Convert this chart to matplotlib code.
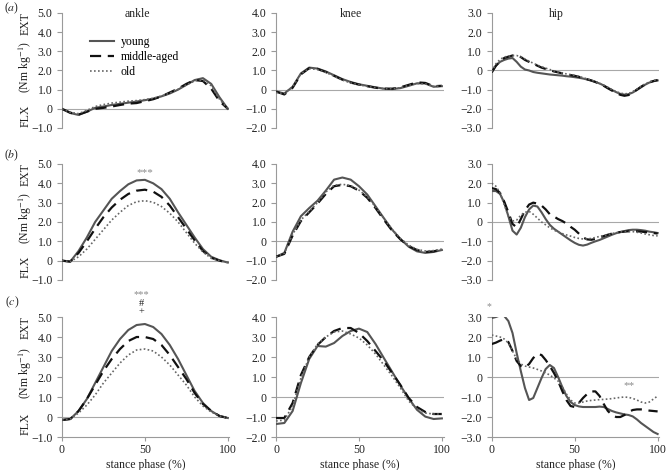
import numpy as np
import matplotlib
matplotlib.use('Agg')
import matplotlib.pyplot as plt

plt.rcParams['font.family'] = ['Liberation Serif', 'DejaVu Serif']
plt.rcParams['mathtext.fontset'] = 'stix'

# stance phase grids (%)
phase = np.arange(0, 101, 5)
phase_hip = np.arange(0, 100.1, 2.5)

# ---- row (a) ----
ankle_a_young = [0.0, -0.22, -0.32, -0.15, 0.05, 0.12, 0.2, 0.26, 0.32, 0.38, 0.45, 0.53, 0.65, 0.8, 1.0, 1.25, 1.5, 1.6, 1.3, 0.6, 0.0]
ankle_a_middle = [0.0, -0.2, -0.3, -0.15, 0.0, 0.05, 0.12, 0.2, 0.27, 0.3, 0.4, 0.5, 0.65, 0.85, 1.05, 1.3, 1.5, 1.45, 1.05, 0.4, 0.0]
ankle_a_old = [0.0, -0.18, -0.25, -0.08, 0.12, 0.22, 0.3, 0.35, 0.4, 0.43, 0.48, 0.55, 0.67, 0.82, 1.02, 1.25, 1.45, 1.5, 1.2, 0.5, 0.0]

knee_a_young = [-0.1, -0.2, 0.15, 0.85, 1.15, 1.1, 0.95, 0.75, 0.55, 0.4, 0.28, 0.2, 0.12, 0.05, 0.03, 0.08, 0.2, 0.33, 0.32, 0.15, 0.18]
knee_a_middle = [-0.1, -0.25, 0.1, 0.8, 1.12, 1.08, 0.92, 0.72, 0.52, 0.37, 0.26, 0.18, 0.1, 0.05, 0.05, 0.12, 0.25, 0.38, 0.35, 0.18, 0.2]
knee_a_old = [-0.15, -0.2, 0.15, 0.82, 1.1, 1.05, 0.9, 0.7, 0.5, 0.35, 0.25, 0.17, 0.1, 0.05, 0.05, 0.1, 0.22, 0.32, 0.3, 0.17, 0.2]

hip_a_young = [-0.05, 0.25, 0.45, 0.55, 0.62, 0.65, 0.45, 0.2, 0.05, 0.0, -0.08, -0.12, -0.15, -0.18, -0.21, -0.23, -0.25, -0.27, -0.3, -0.32, -0.35,
               -0.38, -0.42, -0.47, -0.53, -0.6, -0.68, -0.78, -0.9, -1.02, -1.13, -1.22, -1.26, -1.24, -1.15, -1.02, -0.88, -0.74, -0.63, -0.56, -0.52]
hip_a_middle = [-0.1, 0.25, 0.5, 0.65, 0.72, 0.78, 0.8, 0.7, 0.55, 0.45, 0.35, 0.25, 0.15, 0.08, 0.02, -0.05, -0.1, -0.15, -0.2, -0.24, -0.28,
                -0.33, -0.4, -0.46, -0.52, -0.6, -0.7, -0.8, -0.93, -1.05, -1.17, -1.27, -1.32, -1.28, -1.15, -1.0, -0.85, -0.72, -0.62, -0.55, -0.5]
hip_a_old = [-0.05, 0.35, 0.58, 0.7, 0.75, 0.78, 0.78, 0.72, 0.6, 0.48, 0.38, 0.28, 0.2, 0.12, 0.05, -0.02, -0.08, -0.13, -0.18, -0.22, -0.26,
             -0.31, -0.37, -0.44, -0.5, -0.58, -0.67, -0.77, -0.88, -1.0, -1.1, -1.18, -1.22, -1.2, -1.1, -0.97, -0.83, -0.7, -0.6, -0.52, -0.48]

# ---- row (b) ----
ankle_b_young = [0.0, -0.05, 0.5, 1.2, 2.0, 2.6, 3.2, 3.6, 3.95, 4.15, 4.18, 4.0, 3.7, 3.2, 2.5, 1.85, 1.2, 0.6, 0.2, 0.02, -0.1]
ankle_b_middle = [0.0, -0.05, 0.4, 1.0, 1.65, 2.25, 2.75, 3.15, 3.45, 3.62, 3.67, 3.57, 3.3, 2.85, 2.25, 1.65, 1.05, 0.5, 0.15, 0.0, -0.1]
ankle_b_old = [0.0, -0.05, 0.2, 0.6, 1.1, 1.6, 2.1, 2.5, 2.85, 3.05, 3.1, 3.02, 2.8, 2.45, 2.0, 1.45, 0.9, 0.45, 0.12, 0.0, -0.1]

knee_b_young = [-0.8, -0.6, 0.5, 1.3, 1.72, 2.1, 2.62, 3.19, 3.3, 3.19, 2.85, 2.42, 1.81, 1.2, 0.6, 0.12, -0.28, -0.52, -0.6, -0.55, -0.45]
knee_b_middle = [-0.8, -0.65, 0.3, 1.05, 1.5, 1.95, 2.45, 2.85, 2.92, 2.85, 2.62, 2.25, 1.72, 1.12, 0.55, 0.1, -0.25, -0.45, -0.55, -0.52, -0.42]
knee_b_old = [-0.8, -0.62, 0.35, 1.1, 1.55, 2.0, 2.55, 2.9, 2.95, 2.88, 2.65, 2.3, 1.78, 1.18, 0.62, 0.15, -0.2, -0.42, -0.5, -0.48, -0.4]

hip_b_young = [1.6, 1.6, 1.45, 1.0, 0.3, -0.45, -0.65, -0.3, 0.25, 0.65, 0.85, 0.8, 0.5, 0.15, -0.15, -0.35, -0.5, -0.65, -0.8, -0.95, -1.08,
               -1.18, -1.22, -1.17, -1.08, -1.0, -0.93, -0.84, -0.75, -0.66, -0.58, -0.52, -0.47, -0.42, -0.4, -0.4, -0.42, -0.45, -0.5, -0.53, -0.57]
hip_b_middle = [1.75, 1.7, 1.5, 1.05, 0.5, -0.1, -0.28, 0.15, 0.6, 0.9, 1.0, 0.95, 0.85, 0.65, 0.4, 0.28, 0.15, 0.05, -0.08, -0.25, -0.4,
                -0.6, -0.8, -0.9, -0.92, -0.88, -0.8, -0.73, -0.66, -0.6, -0.55, -0.52, -0.5, -0.48, -0.47, -0.48, -0.5, -0.52, -0.55, -0.57, -0.6]
hip_b_old = [2.0, 1.85, 1.5, 0.9, 0.3, 0.05, 0.1, 0.35, 0.5, 0.55, 0.4, 0.2, 0.0, -0.15, -0.3, -0.42, -0.52, -0.6, -0.67, -0.73, -0.8,
             -0.85, -0.88, -0.88, -0.85, -0.8, -0.75, -0.7, -0.65, -0.6, -0.55, -0.52, -0.5, -0.5, -0.5, -0.53, -0.57, -0.62, -0.66, -0.7, -0.72]

# ---- row (c) ----
ankle_c_young = [-0.15, -0.1, 0.3, 0.9, 1.7, 2.5, 3.3, 3.9, 4.35, 4.6, 4.65, 4.5, 4.15, 3.6, 2.9, 2.1, 1.3, 0.7, 0.3, 0.05, -0.05]
ankle_c_middle = [-0.15, -0.1, 0.3, 0.9, 1.6, 2.3, 2.9, 3.4, 3.8, 4.0, 4.0, 3.9, 3.6, 3.1, 2.5, 1.9, 1.2, 0.65, 0.3, 0.05, -0.05]
ankle_c_old = [-0.15, -0.1, 0.2, 0.6, 1.1, 1.7, 2.2, 2.7, 3.1, 3.35, 3.4, 3.3, 3.0, 2.6, 2.1, 1.6, 1.0, 0.55, 0.25, 0.05, -0.05]

knee_c_young = [-1.35, -1.3, -0.7, 0.7, 1.9, 2.55, 2.52, 2.7, 3.05, 3.3, 3.42, 3.25, 2.65, 1.95, 1.26, 0.57, -0.07, -0.64, -0.98, -1.1, -1.07]
knee_c_middle = [-1.05, -1.05, -0.3, 1.1, 2.0, 2.6, 3.0, 3.3, 3.45, 3.45, 3.2, 2.8, 2.3, 1.8, 1.2, 0.6, -0.05, -0.5, -0.75, -0.85, -0.85]
knee_c_old = [-1.2, -1.15, -0.45, 0.95, 2.0, 2.65, 3.0, 3.25, 3.3, 3.15, 2.95, 2.6, 2.15, 1.6, 1.05, 0.45, -0.2, -0.6, -0.8, -0.85, -0.85]

hip_c_young = [2.95, 3.0, 3.08, 3.05, 2.8, 2.2, 1.2, 0.3, -0.55, -1.15, -1.05, -0.55, -0.05, 0.4, 0.6, 0.45, 0.0, -0.5, -0.95, -1.25, -1.4,
               -1.47, -1.5, -1.5, -1.5, -1.5, -1.48, -1.5, -1.6, -1.7, -1.77, -1.82, -1.87, -1.9, -1.97, -2.12, -2.3, -2.45, -2.6, -2.75, -2.85]
hip_c_middle = [1.65, 1.72, 1.82, 1.9, 1.75, 1.3, 0.8, 0.55, 0.48, 0.65, 0.95, 1.15, 1.1, 0.85, 0.55, 0.2, -0.2, -0.7, -1.15, -1.45, -1.5,
                -1.3, -1.05, -0.85, -0.72, -0.72, -0.95, -1.35, -1.7, -1.9, -2.0, -2.0, -1.9, -1.75, -1.65, -1.62, -1.62, -1.65, -1.68, -1.7, -1.72]
hip_c_old = [2.1, 2.05, 2.0, 1.9, 1.7, 1.3, 0.9, 0.65, 0.55, 0.5, 0.45, 0.38, 0.3, 0.2, 0.1, -0.05, -0.2, -0.5, -0.85, -1.15, -1.3,
             -1.3, -1.25, -1.2, -1.17, -1.15, -1.13, -1.12, -1.1, -1.08, -1.05, -1.02, -1.0, -1.02, -1.07, -1.15, -1.25, -1.3, -1.25, -1.1, -0.95]

joints = ['ankle', 'knee', 'hip']
row_labels = ['a', 'b', 'c']
y_ranges = {'ankle': (-1, 5), 'knee': (-2, 4), 'hip': (-3, 3)}
group_names = ['young', 'middle-aged', 'old']

data = {
    ('a', 'ankle'): (phase, ankle_a_young, ankle_a_middle, ankle_a_old),
    ('a', 'knee'): (phase, knee_a_young, knee_a_middle, knee_a_old),
    ('a', 'hip'): (phase_hip, hip_a_young, hip_a_middle, hip_a_old),
    ('b', 'ankle'): (phase, ankle_b_young, ankle_b_middle, ankle_b_old),
    ('b', 'knee'): (phase, knee_b_young, knee_b_middle, knee_b_old),
    ('b', 'hip'): (phase_hip, hip_b_young, hip_b_middle, hip_b_old),
    ('c', 'ankle'): (phase, ankle_c_young, ankle_c_middle, ankle_c_old),
    ('c', 'knee'): (phase, knee_c_young, knee_c_middle, knee_c_old),
    ('c', 'hip'): (phase_hip, hip_c_young, hip_c_middle, hip_c_old),
}

# axes layout (figure fractions)
col_left = [0.0925, 0.412, 0.734]
col_width = 0.25
row_box = [(0.7277, 0.2447), (0.4043, 0.2468), (0.0702, 0.2553)]

tick_col = '#222222'
spine_col = '#9a9a9a'

fig = plt.figure(figsize=(6.7, 4.7), dpi=100)

axes = {}
for r, row in enumerate(row_labels):
    for c, joint in enumerate(joints):
        ax = fig.add_axes([col_left[c], row_box[r][0], col_width, row_box[r][1]])
        axes[(row, joint)] = ax
        x, young, middle, old = data[(row, joint)]

        ax.axhline(0, color='#a8a8a8', linewidth=0.8, zorder=1)
        ax.plot(x, young, color='#555555', linewidth=1.5, label=group_names[0], zorder=3)
        ax.plot(x, middle, color='#111111', linewidth=1.6, dashes=(5, 3), label=group_names[1], zorder=4)
        ax.plot(x, old, color='#666666', linewidth=1.2, dashes=(1, 1.4), label=group_names[2], zorder=5)

        lo, hi = y_ranges[joint]
        ax.set_xlim(0, 101)
        ax.set_ylim(lo, hi)
        ticks = np.arange(lo, hi + 1)
        ax.set_yticks(ticks)
        ax.set_yticklabels(['0' if t == 0 else f'{t:.1f}'.replace('-', '\u2212') for t in ticks])

        for s in ['top', 'right']:
            ax.spines[s].set_visible(False)
        ax.spines['left'].set_color(spine_col)
        ax.spines['left'].set_linewidth(0.8)
        ax.tick_params(axis='y', direction='out', length=3.5, width=0.8, color=spine_col,
                       labelsize=8.5, labelcolor=tick_col, pad=3.5)

        if row == 'c':
            ax.spines['bottom'].set_color(spine_col)
            ax.spines['bottom'].set_linewidth(0.8)
            ax.set_xticks([0, 50, 100])
            ax.tick_params(axis='x', direction='out', length=3, width=0.8, color=spine_col,
                           labelsize=8.5, labelcolor=tick_col, pad=2)
            ax.set_xlabel('stance phase (%)', fontsize=8.5, color=tick_col, labelpad=2)
        else:
            ax.spines['bottom'].set_visible(False)
            ax.set_xticks([])

        if row == 'a':
            title_x = 0.385 if joint == 'hip' else 0.45
            ax.text(title_x, 1.04, joint, transform=ax.transAxes, ha='center', va='top',
                    fontsize=8.5, color=tick_col)

        if joint == 'ankle':
            # y axis label pieces
            ax.text(-0.22, 0.91, 'EXT', transform=ax.transAxes, rotation=90,
                    ha='center', va='center', fontsize=8.5, color=tick_col)
            ax.text(-0.22, 0.53, '(Nm kg$^{-1}$)', transform=ax.transAxes, rotation=90,
                    ha='center', va='center', fontsize=8.5, color=tick_col)
            ax.text(-0.22, 0.11, 'FLX', transform=ax.transAxes, rotation=90,
                    ha='center', va='center', fontsize=8.5, color=tick_col)

# panel letters
for row, ypix in zip(row_labels, [8, 155, 302]):
    fig.text(12 / 670, 1 - ypix / 470, f'($\\mathit{{{row}}}$)', ha='center', va='center',
             fontsize=8.5, color=tick_col)

# legend in first panel
axes[('a', 'ankle')].legend(loc='upper left', bbox_to_anchor=(0.14, 0.84), frameon=False,
                            fontsize=8.5, handlelength=2.0, handletextpad=0.6,
                            labelspacing=0.25, borderaxespad=0)

# significance markers
star_col = '#8a8a8a'
axes[('b', 'ankle')].text(50, 4.55, '***', ha='center', va='center', fontsize=8, color=star_col)
axes[('c', 'ankle')].text(48, 5.88, '***', ha='center', va='bottom', fontsize=7.5, color=star_col, clip_on=False)
axes[('c', 'ankle')].text(48, 5.88, '#\n+', ha='center', va='top', fontsize=7.5, linespacing=0.8,
                          color=tick_col, clip_on=False)
axes[('c', 'hip')].text(-2, 3.5, '*', ha='center', va='center', fontsize=7, color=star_col, clip_on=False)
axes[('c', 'hip')].text(83, -0.45, '**', ha='center', va='center', fontsize=8, color=star_col)

fig.savefig('out.png', dpi=100)
